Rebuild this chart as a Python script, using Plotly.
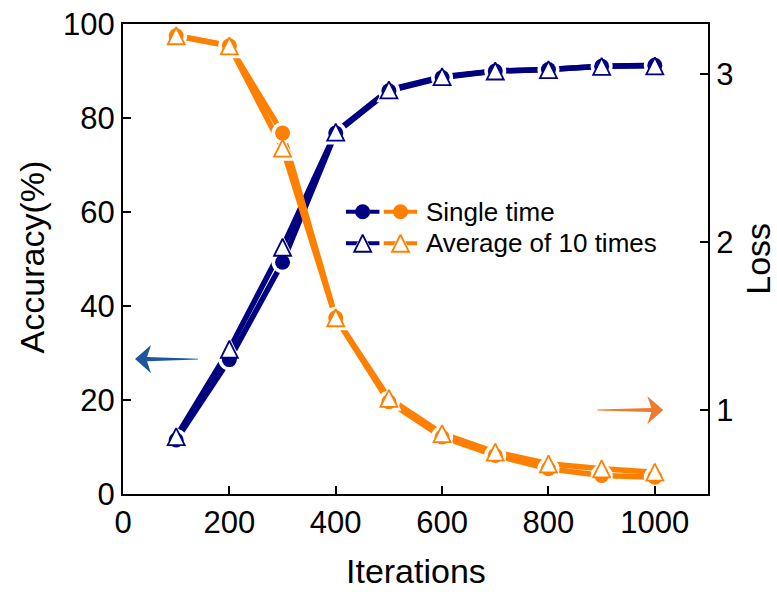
import plotly.graph_objects as go

# ---- data ----
iterations = [100, 200, 300, 400, 500, 600, 700, 800, 900, 1000]
acc_single = [11.5, 28.6, 49.3, 76.8, 85.8, 88.6, 90.0, 90.3, 91.0, 91.2]
acc_avg = [12.2, 30.8, 52.5, 77.0, 86.0, 88.8, 90.0, 90.3, 91.0, 91.1]
loss_single = [3.23, 3.17, 2.65, 1.55, 1.05, 0.84, 0.73, 0.65, 0.61, 0.60]
loss_avg = [3.23, 3.17, 2.56, 1.55, 1.07, 0.86, 0.75, 0.68, 0.65, 0.63]

x_ticks = [0, 200, 400, 600, 800, 1000]
acc_ticks = [0, 20, 40, 60, 80, 100]
loss_ticks = [1, 2, 3]

legend_labels = ["Single time", "Average of 10 times"]
axis_titles = {"x": "Iterations", "y": "Accuracy(%)", "y2": "Loss"}

NAVY = "#000080"
ORANGE = "#FF8000"
FONT = "Liberation Sans, Arial, sans-serif"
LW = 5.5
CIRC = 15
TRI = 17


def tri_marker(size, fill, outline=None, width=0):
    # upright triangle, height == width, centred on the data point
    return dict(symbol="arrow-down", angle=180, standoff=size / 2, size=size,
                color=fill, line=dict(width=width, color=outline or fill))


fig = go.Figure()


def add_series(y_single, y_avg, color, yaxis):
    # connecting lines
    for ys in (y_single, y_avg):
        fig.add_trace(go.Scatter(x=iterations, y=ys, yaxis=yaxis, mode="lines",
                                 line=dict(color=color, width=LW),
                                 hoverinfo="skip", showlegend=False))
    # white halos leave a small gap between line and symbol
    fig.add_trace(go.Scatter(x=iterations, y=y_single, yaxis=yaxis, mode="markers",
                             marker=dict(symbol="circle", size=CIRC + 7, color="white",
                                         line=dict(width=0)),
                             hoverinfo="skip", showlegend=False))
    fig.add_trace(go.Scatter(x=iterations, y=y_avg, yaxis=yaxis, mode="markers",
                             marker=tri_marker(TRI + 8, "white"),
                             hoverinfo="skip", showlegend=False))
    # symbols
    fig.add_trace(go.Scatter(x=iterations, y=y_single, yaxis=yaxis, mode="markers",
                             marker=dict(symbol="circle", size=CIRC, color=color,
                                         line=dict(width=0)),
                             showlegend=False))
    fig.add_trace(go.Scatter(x=iterations, y=y_avg, yaxis=yaxis, mode="markers",
                             marker=tri_marker(TRI, "white", color, 1.8),
                             showlegend=False))


add_series(acc_single, acc_avg, NAVY, "y")
add_series(loss_single, loss_avg, ORANGE, "y2")

# ---- legend drawn on a hidden helper axis ----
LEG_X = [0.381, 0.503]
LEG_Y = [0.50, 0.634]
leg_rows = [0.75, 0.25]
for row, sym in zip(leg_rows, ["circle", "triangle"]):
    for x0, x1, color in [(0.0, 0.47, NAVY), (0.53, 1.0, ORANGE)]:
        xm = (x0 + x1) / 2
        fig.add_trace(go.Scatter(x=[x0, x1], y=[row, row], xaxis="x3", yaxis="y3",
                                 mode="lines", line=dict(color=color, width=4),
                                 hoverinfo="skip", showlegend=False))
        if sym == "triangle":
            fig.add_trace(go.Scatter(x=[xm], y=[row], xaxis="x3", yaxis="y3", mode="markers",
                                     marker=tri_marker(TRI + 6, "white"),
                                     hoverinfo="skip", showlegend=False))
            fig.add_trace(go.Scatter(x=[xm], y=[row], xaxis="x3", yaxis="y3", mode="markers",
                                     marker=tri_marker(TRI, "white", color, 1.8),
                                     hoverinfo="skip", showlegend=False))
        else:
            fig.add_trace(go.Scatter(x=[xm], y=[row], xaxis="x3", yaxis="y3", mode="markers",
                                     marker=dict(symbol="circle", size=CIRC, color=color),
                                     hoverinfo="skip", showlegend=False))

annotations = []
for row, label in zip(leg_rows, legend_labels):
    annotations.append(dict(x=LEG_X[0] + 1.10 * (LEG_X[1] - LEG_X[0]),
                            y=LEG_Y[0] + row * (LEG_Y[1] - LEG_Y[0]),
                            xref="paper", yref="paper", text=label,
                            showarrow=False, xanchor="left", yanchor="middle",
                            font=dict(family=FONT, size=26, color="black")))

# ---- axis titles placed as paper-anchored text ----
title_font = dict(family=FONT, size=34, color="black")
annotations += [
    dict(x=0.501, y=-0.163, xref="paper", yref="paper", text=axis_titles["x"],
         showarrow=False, xanchor="center", yanchor="middle", borderpad=0,
         font=title_font),
    dict(x=-0.156, y=0.505, xref="paper", yref="paper", text=axis_titles["y"],
         showarrow=False, xanchor="center", yanchor="middle", textangle=-90,
         borderpad=0, font=title_font),
    dict(x=1.085, y=0.50, xref="paper", yref="paper", text=axis_titles["y2"],
         showarrow=False, xanchor="center", yanchor="middle", textangle=-90,
         borderpad=0, font=title_font),
]

# ---- tapered arrows pointing at each axis ----
shapes = [
    dict(type="path", xref="x", yref="y", fillcolor="#1F55A0", line=dict(width=0),
         path="M 22.6 28.7 L 52.7 31.7 L 45.2 29.15 L 141 28.8 L 141 28.6 L 45.2 28.25 "
              "L 52.7 25.7 Z"),
    dict(type="path", xref="x", yref="y2", fillcolor="#EE7A30", line=dict(width=0),
         path="M 1016 1.0 L 986 1.083 L 993.6 1.012 L 892 1.003 L 892 0.997 L 993.6 0.988 "
              "L 986 0.917 Z"),
]

axis_common = dict(showline=True, linecolor="black", linewidth=2, ticks="inside",
                   ticklen=8, tickwidth=2, tickcolor="black", showgrid=False, zeroline=False,
                   automargin=False,
                   tickfont=dict(family=FONT, size=31, color="black"))

fig.update_layout(
    width=777, height=592,
    margin=dict(l=123, r=69, t=24, b=98),
    paper_bgcolor="white", plot_bgcolor="white",
    showlegend=False,
    xaxis=dict(range=[0, 1100], tickvals=x_ticks, mirror=True, **axis_common),
    yaxis=dict(range=[0, 100], tickvals=acc_ticks, **axis_common),
    yaxis2=dict(range=[0.5, 3.3], tickvals=loss_ticks, overlaying="y", side="right",
                **axis_common),
    xaxis3=dict(domain=LEG_X, range=[0, 1], visible=False, fixedrange=True),
    yaxis3=dict(domain=LEG_Y, range=[0, 1], visible=False, fixedrange=True,
                anchor="x3"),
    annotations=annotations,
    shapes=shapes,
)

fig.write_html("out.html")
